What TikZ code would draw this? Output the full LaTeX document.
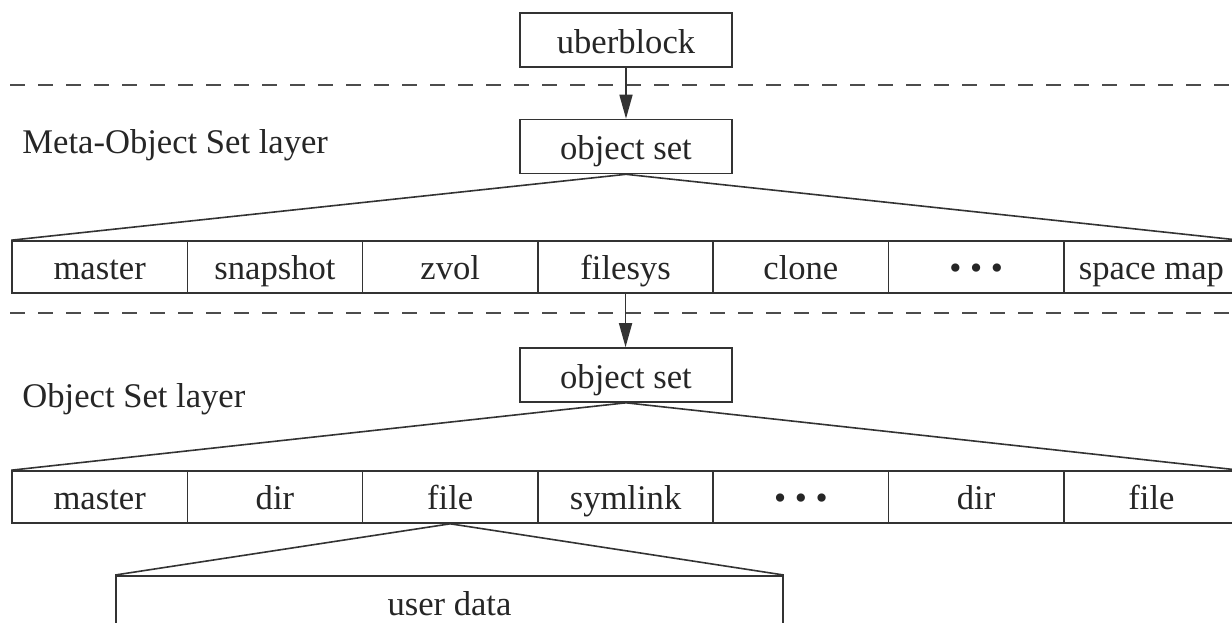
\documentclass[tikz,border=0pt]{standalone}
\usepackage{fontspec}
\setmainfont{Liberation Serif}
\usetikzlibrary{arrows.meta}
\begin{document}
\begin{tikzpicture}[x=0.5pt,y=-0.5pt,
  every node/.style={font=\fontsize{17.3}{20}\selectfont, text=black!85},
  ln/.style={line width=0.8pt, draw=black!80},
  topbox/.style={ln, draw, inner sep=0pt, minimum width=106pt, text height=20pt, text depth=7pt},
  cell/.style={ln, draw, inner sep=0pt, minimum width=87.65pt, text height=19pt, text depth=7pt},
  layerlabel/.style={anchor=base west, inner sep=0pt},
  sep/.style={line width=0.8pt, draw=black!70, dash pattern=on 7.5pt off 6.5pt},
  arr/.style={ln, -{Triangle[length=12pt,width=6.5pt]}}
]
\useasboundingbox (0,0) rectangle (1232,622);
\clip (0,0) rectangle (1232,622);

% dashed separators
\coordinate (d1l) at (10,85);
\coordinate (d1r) at (1240,85);
\coordinate (d2l) at (10,313);
\coordinate (d2r) at (1240,313);
\draw[sep] (d1l) -- (d1r);
\draw[sep] (d2l) -- (d2r);

% top
\node[topbox] (ub) at (626,40) {uberblock};
\node[topbox] (os1) at (626,146.5) {object set};
\node[layerlabel] (l1) at (22,153) {Meta-Object Set layer};

% row 1
\foreach \t [count=\i] in {master,snapshot,zvol,filesys,clone,{\textbullet\ \textbullet\ \textbullet},space map}
  \node[cell] (a\i) at ({12+175.3*(\i-0.5)},267) {\t};

\draw[arr] (ub.south) -- (os1.north);
\draw[ln] (os1.south) -- (a1.north west);
\draw[ln] (os1.south) -- (a7.north east);

% object set layer
\node[topbox] (os2) at (626,375) {object set};
\node[layerlabel] (l2) at (22,407) {Object Set layer};
\draw[arr] (a4.south) -- (a4.south |- os2.north);

% row 2
\foreach \t [count=\i] in {master,dir,file,symlink,{\textbullet\ \textbullet\ \textbullet},dir,file}
  \node[cell] (b\i) at ({12+175.3*(\i-0.5)},497) {\t};

\draw[ln] (os2.south) -- (b1.north west);
\draw[ln] (os2.south) -- (b7.north east);

% user data
\node[ln, draw, anchor=north, inner sep=0pt, minimum width=333.5pt, text height=20pt, text depth=22.5pt] (ud) at (449.5,575) {user data};
\draw[ln] (b3.south) -- (ud.north west);
\draw[ln] (b3.south) -- (ud.north east);
\end{tikzpicture}
\end{document}
